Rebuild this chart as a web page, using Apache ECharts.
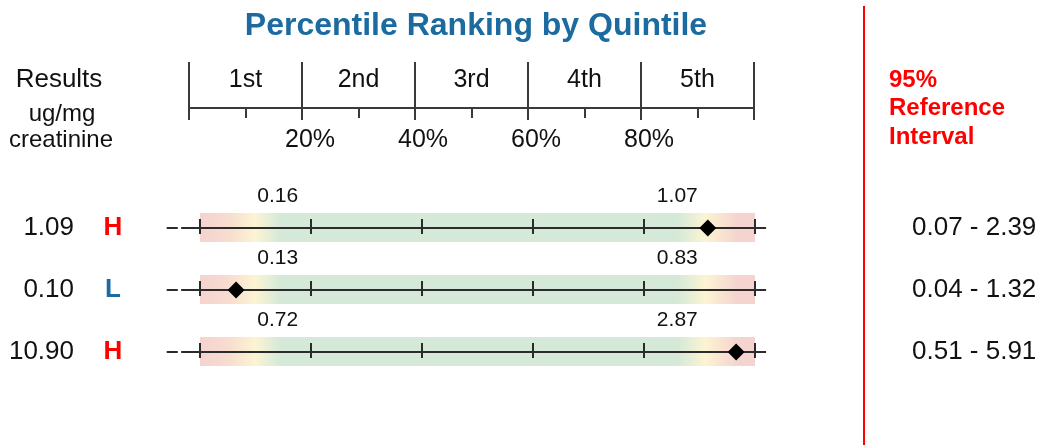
<!DOCTYPE html>
<html>
<head>
<meta charset="utf-8">
<script src="https://cdn.jsdelivr.net/npm/echarts@6/dist/echarts.min.js"></script>
<style>
  html, body { margin: 0; padding: 0; background: #fff; }
  #chart { width: 1052px; height: 445px; }
</style>
</head>
<body>
<div id="chart"></div>
<script>
// quintile header
const quintileLabels = ["1st", "2nd", "3rd", "4th", "5th"];
const quintileCenters = [10, 30, 50, 70, 90];

// one entry per analyte row
const results = ["1.09", "0.10", "10.90"];
const flags = ["H", "L", "H"];
const markerPct = [91.5, 6.5, 96.6];
const lowLabels = ["0.16", "0.13", "0.72"];
const highLabels = ["1.07", "0.83", "2.87"];
const labelPct = [14, 86];
const refIntervals = ["0.07 - 2.39", "0.04 - 1.32", "0.51 - 5.91"];

const FONT = "Liberation Sans, Arial, sans-serif";
const INK = "#111";
const LINE = "#2b2b2b";
const rowIdx = results.map((_, i) => i);

const chart = echarts.init(document.getElementById("chart"));

function renderTrack(params, api) {
  const row = api.value(1);
  const p0 = api.coord([0, row]);
  const p100 = api.coord([100, row]);
  const y = p0[1];
  const children = [
    {
      type: "rect",
      shape: { x: p0[0], y: y - 15, width: p100[0] - p0[0], height: 29 },
      style: {
        fill: new echarts.graphic.LinearGradient(0, 0, 1, 0, [
          { offset: 0, color: "#f5d3cf" },
          { offset: 0.05, color: "#f7dccf" },
          { offset: 0.1, color: "#fcf4d3" },
          { offset: 0.145, color: "#d4e9d8" },
          { offset: 0.86, color: "#d4e9d8" },
          { offset: 0.91, color: "#fcf4d3" },
          { offset: 0.97, color: "#f5d3cf" },
          { offset: 1, color: "#f5d3cf" },
        ]),
      },
    },
    {
      type: "line",
      shape: { x1: api.coord([-6, row])[0], y1: y, x2: api.coord([-4, row])[0], y2: y },
      style: { stroke: LINE, lineWidth: 2 },
    },
    {
      type: "line",
      shape: { x1: api.coord([-3.4, row])[0], y1: y, x2: api.coord([102, row])[0], y2: y },
      style: { stroke: LINE, lineWidth: 2 },
    },
  ];
  for (let v = 0; v <= 100; v += 20) {
    const x = api.coord([v, row])[0];
    children.push({
      type: "line",
      shape: { x1: x, y1: y - 9, x2: x, y2: y + 6 },
      style: { stroke: LINE, lineWidth: 2 },
    });
  }
  return { type: "group", children };
}

const textLabel = (size, offset) => ({
  show: true,
  position: "inside",
  offset: offset,
  fontSize: size,
  color: INK,
  opacity: 1,
  textBorderWidth: 0,
  formatter: (p) => p.value[2],
});

const option = {
  animation: false,
  backgroundColor: "#fff",
  textStyle: { fontFamily: FONT },
  title: {
    text: "Percentile Ranking by Quintile",
    left: 471,
    top: 5,
    textAlign: "center",
    textStyle: { fontSize: 32, fontWeight: "bold", color: "#1b6aa0", fontFamily: FONT },
  },
  grid: [
    { left: 189, right: 298, top: 62, height: 46 },
    { left: 200, right: 297, top: 197, height: 186 },
  ],
  xAxis: [
    {
      gridIndex: 0,
      type: "value",
      min: 0,
      max: 100,
      interval: 20,
      axisLine: { show: true, lineStyle: { color: "#3a3a3a", width: 2 } },
      axisTick: { show: true, length: 12, lineStyle: { color: "#3a3a3a", width: 2 } },
      minorTick: { show: true, splitNumber: 2, length: 10, lineStyle: { color: "#3a3a3a", width: 2 } },
      splitLine: { show: true, lineStyle: { color: "#3a3a3a", width: 2 } },
      axisLabel: {
        margin: 20,
        fontSize: 25,
        color: INK,
        padding: [0, 0, 0, 16],
        formatter: (v) => (v === 0 || v === 100 ? "" : v + "%"),
      },
    },
    { gridIndex: 1, type: "value", min: 0, max: 100, show: false },
  ],
  yAxis: [
    { gridIndex: 0, type: "value", min: 0, max: 1, show: false },
    {
      gridIndex: 1,
      type: "category",
      data: rowIdx,
      inverse: true,
      axisLine: { show: false },
      axisTick: { show: false },
      splitLine: { show: false },
      axisLabel: {
        margin: 72,
        formatter: (v, i) => `{v|${results[i]}}{g|}{f${flags[i]}|${flags[i]}}`,
        rich: {
          v: { fontSize: 26, color: INK, fontFamily: FONT },
          g: { width: 24 },
          fH: { fontSize: 26, fontWeight: "bold", color: "#ff0000", width: 30, align: "center", fontFamily: FONT },
          fL: { fontSize: 26, fontWeight: "bold", color: "#1b6aa0", width: 30, align: "center", fontFamily: FONT },
        },
      },
    },
    {
      gridIndex: 1,
      type: "category",
      position: "right",
      data: rowIdx,
      inverse: true,
      axisLine: { show: false },
      axisTick: { show: false },
      splitLine: { show: false },
      axisLabel: {
        margin: 157,
        align: "left",
        fontSize: 26,
        color: INK,
        formatter: (v, i) => refIntervals[i],
      },
    },
  ],
  series: [
    {
      type: "scatter",
      xAxisIndex: 0,
      yAxisIndex: 0,
      symbolSize: 0,
      itemStyle: { opacity: 1 },
      data: quintileLabels.map((q, i) => [quintileCenters[i], 0.61, q]),
      label: textLabel(25, [0, 0]),
    },
    {
      type: "custom",
      xAxisIndex: 1,
      yAxisIndex: 1,
      renderItem: renderTrack,
      data: rowIdx.map((i) => [0, i]),
      z: 1,
    },
    {
      type: "scatter",
      xAxisIndex: 1,
      yAxisIndex: 1,
      symbolSize: 0,
      itemStyle: { opacity: 1 },
      data: rowIdx.flatMap((i) => [
        [labelPct[0], i, lowLabels[i]],
        [labelPct[1], i, highLabels[i]],
      ]),
      label: textLabel(21, [0, -32]),
      z: 2,
    },
    {
      type: "scatter",
      xAxisIndex: 1,
      yAxisIndex: 1,
      symbol: "diamond",
      symbolSize: 17,
      itemStyle: { color: "#000", opacity: 1 },
      data: rowIdx.map((i) => [markerPct[i], i]),
      z: 3,
    },
  ],
  graphic: [
    { type: "text", x: 59, y: 80, style: { text: "Results", fontSize: 26, fontFamily: FONT, fill: INK, align: "center", verticalAlign: "middle" } },
    { type: "text", x: 62, y: 114, style: { text: "ug/mg", fontSize: 24, fontFamily: FONT, fill: INK, align: "center", verticalAlign: "middle" } },
    { type: "text", x: 61, y: 140, style: { text: "creatinine", fontSize: 24, fontFamily: FONT, fill: INK, align: "center", verticalAlign: "middle" } },
    { type: "line", shape: { x1: 864, y1: 6, x2: 864, y2: 445 }, style: { stroke: "#ff0000", lineWidth: 2 } },
    { type: "text", x: 889, y: 80, style: { text: "95%", fontSize: 24, fontWeight: "bold", fontFamily: FONT, fill: "#ff0000", align: "left", verticalAlign: "middle" } },
    { type: "text", x: 889, y: 108, style: { text: "Reference", fontSize: 24, fontWeight: "bold", fontFamily: FONT, fill: "#ff0000", align: "left", verticalAlign: "middle" } },
    { type: "text", x: 889, y: 137, style: { text: "Interval", fontSize: 24, fontWeight: "bold", fontFamily: FONT, fill: "#ff0000", align: "left", verticalAlign: "middle" } },
  ],
};

chart.setOption(option);
</script>
</body>
</html>
